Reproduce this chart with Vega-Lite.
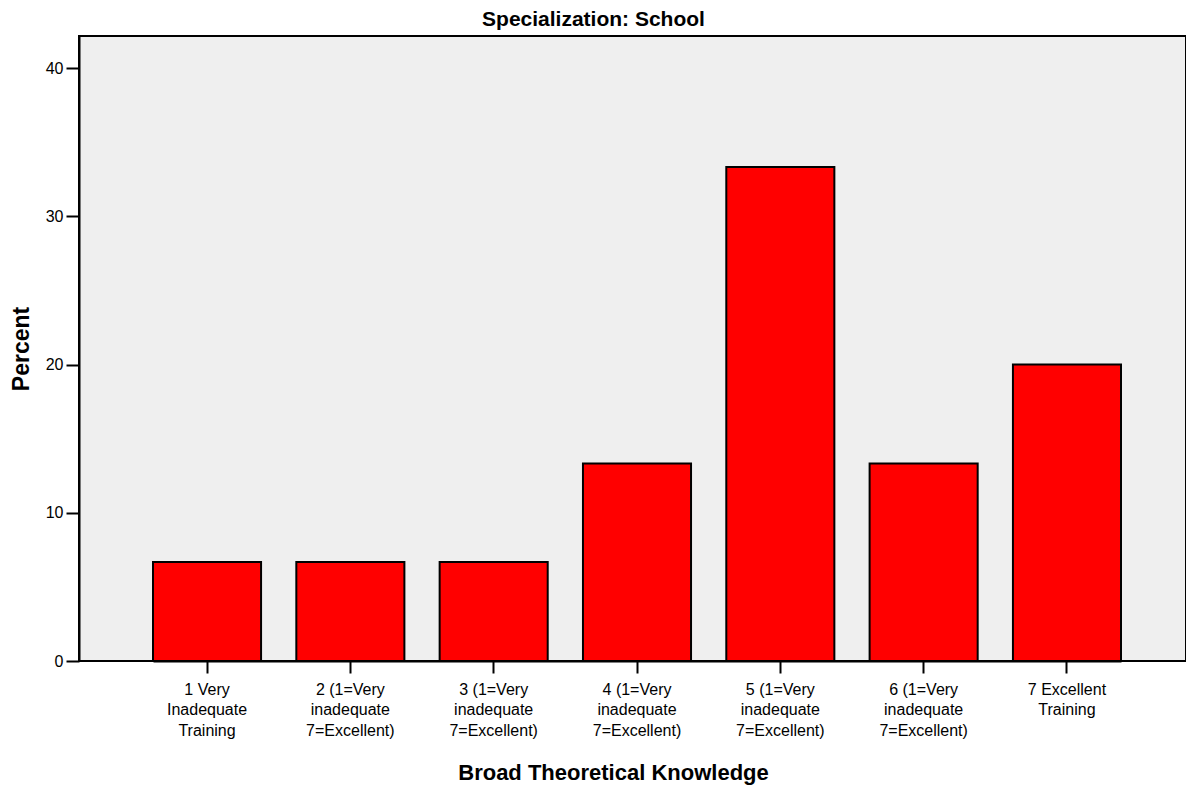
{
  "$schema": "https://vega.github.io/schema/vega-lite/v6.json",
  "autosize": {"type": "none"},
  "padding": {"left": 79, "top": 36, "right": 0, "bottom": 131},
  "width": 1107,
  "height": 625,
  "background": "white",
  "title": {
    "text": "Specialization: School",
    "font": "Liberation Sans",
    "fontSize": 21,
    "fontWeight": "bold",
    "color": "black",
    "anchor": "middle",
    "offset": 6,
    "dx": -39
  },
  "config": {
    "view": {"fill": "#efefef", "stroke": "black", "strokeWidth": 2},
    "axis": {
      "labelFont": "Liberation Sans",
      "titleFont": "Liberation Sans",
      "labelColor": "black",
      "titleColor": "black",
      "domainColor": "black",
      "tickColor": "black",
      "domainWidth": 2,
      "tickWidth": 2,
      "grid": false
    }
  },
  "data": {
    "values": [
      {"category": "1 Very|Inadequate|Training", "percent": 6.67},
      {"category": "2 (1=Very|inadequate|7=Excellent)", "percent": 6.67},
      {"category": "3 (1=Very|inadequate|7=Excellent)", "percent": 6.67},
      {"category": "4 (1=Very|inadequate|7=Excellent)", "percent": 13.33},
      {"category": "5 (1=Very|inadequate|7=Excellent)", "percent": 33.33},
      {"category": "6 (1=Very|inadequate|7=Excellent)", "percent": 13.33},
      {"category": "7 Excellent|Training", "percent": 20.0}
    ]
  },
  "mark": {"type": "bar", "color": "#ff0000", "stroke": "black", "strokeWidth": 2},
  "encoding": {
    "x": {
      "field": "category",
      "type": "nominal",
      "sort": null,
      "scale": {"range": [74, 1042], "paddingInner": 0.246, "paddingOuter": 0},
      "axis": {
        "title": "Broad Theoretical Knowledge",
        "titleFontSize": 22,
        "titleFontWeight": "bold",
        "titlePadding": 24,
        "titleX": 534,
        "titleAlign": "center",
        "labelAngle": 0,
        "labelFontSize": 16,
        "labelLineHeight": 20.5,
        "labelPadding": 8,
        "tickSize": 12,
        "labelExpr": "split(datum.label, '|')"
      }
    },
    "y": {
      "field": "percent",
      "type": "quantitative",
      "scale": {"domain": [0, 42.16], "nice": false},
      "axis": {
        "title": "Percent",
        "titleFontSize": 23,
        "titleFontWeight": "bold",
        "titlePadding": 12,
        "values": [0, 10, 20, 30, 40],
        "labelFontSize": 16,
        "labelPadding": 3,
        "tickSize": 13
      }
    }
  }
}
